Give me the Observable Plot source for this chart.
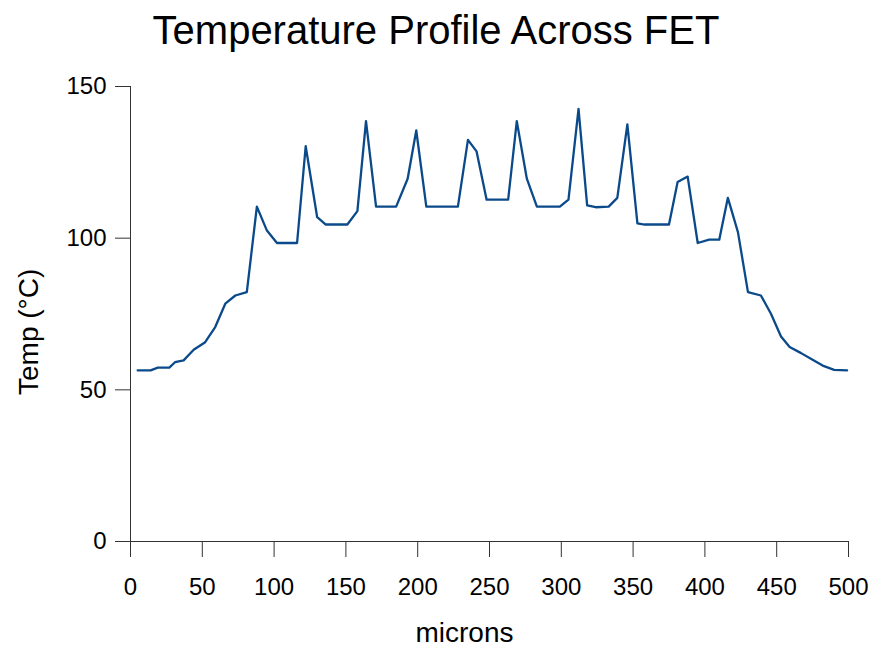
<!DOCTYPE html>
<html>
<head>
<meta charset="utf-8">
<script src="https://cdn.jsdelivr.net/npm/d3@7"></script>
<script src="https://cdn.jsdelivr.net/npm/@observablehq/plot@0.6"></script>
<style>
  html, body { margin: 0; padding: 0; background: #fff; }
  #title { width: 872px; height: 60px; line-height: 60px; text-align: center;
    font-family: "Liberation Sans", Arial, sans-serif; font-size: 40px; color: #000; }
  #chart svg { display: block; }
</style>
</head>
<body>
<div id="title">Temperature Profile Across FET</div>
<div id="chart"></div>
<script>
const titleText = "Temperature Profile Across FET";
const xLabel = "microns";
const yLabel = "Temp (°C)";
const xTicks = [0, 50, 100, 150, 200, 250, 300, 350, 400, 450, 500];
const yTicks = [0, 50, 100, 150];
const microns = [5, 14, 19, 27, 31, 37, 44, 52, 59, 66, 73, 81, 88, 95, 102, 116, 122, 130, 136, 151,
  158, 164, 171, 185, 193, 199, 206, 228, 235, 241, 248, 263, 269, 276, 283, 299, 305, 312, 318, 324,
  333, 339, 346, 353, 358, 375, 381, 388, 395, 403, 410, 416, 423, 430, 439, 446, 453, 459, 467, 475,
  482, 490, 499];
const temps = [56.4, 56.4, 57.3, 57.3, 59.1, 59.7, 63.2, 65.7, 70.7, 78.4, 81.1, 82.2, 110.4, 102.5, 98.4, 98.4, 130.3, 106.9, 104.5, 104.5,
  108.9, 138.6, 110.4, 110.4, 119.6, 135.5, 110.4, 110.4, 132.4, 128.6, 112.7, 112.7, 138.6, 119.6, 110.4, 110.4, 112.7, 142.6, 110.8, 110.2,
  110.4, 113.3, 137.5, 104.9, 104.5, 104.5, 118.5, 120.3, 98.4, 99.5, 99.5, 113.3, 102, 82.2, 81.1, 75.1, 67.6, 64.1, 62.1, 59.9,
  58, 56.6, 56.4];

const data = microns.map((m, i) => ({x: m, y: temps[i]}));
document.getElementById("title").textContent = titleText;

const axisColor = "#333";
const font = "'Liberation Sans', Arial, sans-serif";

const chart = Plot.plot({
  width: 872,
  height: 589,
  marginTop: 26,
  marginBottom: 108,
  marginLeft: 130,
  marginRight: 24,
  style: {fontFamily: font, color: "#000", background: "#fff"},
  x: {domain: [0, 500]},
  y: {domain: [0, 150]},
  marks: [
    Plot.axisX({ticks: xTicks, tickSize: 16, tickPadding: 20, fontSize: 24, label: null, stroke: axisColor, fill: "#000"}),
    Plot.axisY({ticks: yTicks, tickSize: 15, tickPadding: 9, fontSize: 24, label: null, stroke: axisColor, fill: "#000"}),
    Plot.ruleY([0], {stroke: axisColor, strokeWidth: 1}),
    Plot.ruleX([0], {stroke: axisColor, strokeWidth: 1}),
    Plot.line(data, {x: "x", y: "y", stroke: "#0b4a8a", strokeWidth: 2.3}),
    Plot.text([yLabel], {text: d => d, frameAnchor: "left", rotate: -90, dx: -101, dy: 81, fontSize: 28, fill: "#000"}),
    Plot.text([xLabel], {text: d => d, frameAnchor: "bottom", dx: -25, dy: 100, fontSize: 28, fill: "#000"})
  ]
});
document.getElementById("chart").appendChild(chart);
</script>
</body>
</html>
